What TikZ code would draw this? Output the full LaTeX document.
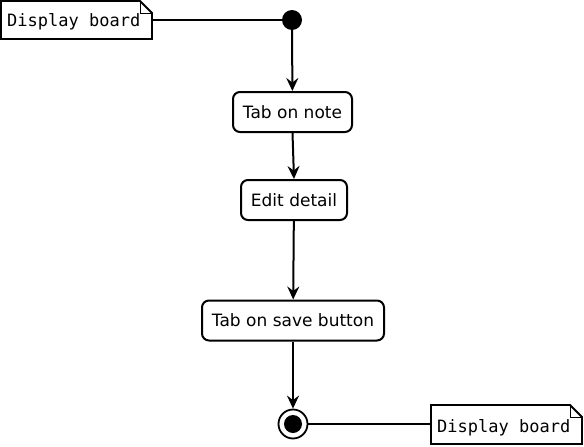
\documentclass[tikz,border=0pt]{standalone}
\usepackage{fontspec}
\setmainfont{DejaVu Sans}
\newfontfamily\monof{DejaVu Sans Mono}
\usetikzlibrary{arrows.meta}
\begin{document}
\begin{tikzpicture}[x=1pt,y=-1pt,
  act/.style={draw,line width=2pt,rounded corners=7pt,minimum height=40pt,inner xsep=9pt,font=\fontsize{17}{19}\selectfont},
  flow/.style={line width=2pt,-{Stealth[length=13pt,width=12pt,inset=4.5pt]}},
  link/.style={line width=2pt}]
\useasboundingbox (0,0) rectangle (584,447);
% note 1
\draw[line width=1.8pt] (1,1) -- (140,1) -- (152,13) -- (152,39) -- (1,39) -- cycle;
\draw[line width=1pt] (140,1) -- (140,13) -- (152,13);
\node[anchor=west,inner sep=0,font=\monof\fontsize{17}{18}\selectfont] (n1) at (7,22) {Display board};
\coordinate (n1r) at (152,20);
% note 2
\draw[line width=1.8pt] (431,405) -- (570,405) -- (582,417) -- (582,444) -- (431,444) -- cycle;
\draw[line width=1pt] (570,405) -- (570,417) -- (582,417);
\node[anchor=west,inner sep=0,font=\monof\fontsize{17}{18}\selectfont] (n2) at (437,428) {Display board};
\coordinate (n2l) at (431,424);
% initial
\node[circle,fill=black,minimum size=20pt,inner sep=0] (init) at (292,20) {};
% activities
\node[act,minimum width=119pt] (a1) at (292.5,112) {Tab on note};
\node[act,minimum width=106pt] (a2) at (294,200) {Edit detail};
\node[act,minimum width=182pt] (a3) at (293,320.5) {Tab on save button};
% final
\node[circle,draw,line width=1.8pt,minimum size=29pt,inner sep=0] (fin) at (293,424) {};
\node[circle,fill=black,minimum size=18pt,inner sep=0] at (fin) {};
% connectors
\draw[link] (n1r) -- (init.west);
\draw[flow] (init) -- (a1);
\draw[flow] (a1.south) -- (a2.north);
\draw[flow] (a2) -- (a3);
\draw[flow] (a3) -- (fin);
\draw[link] (fin.east) -- (n2l);
\end{tikzpicture}
\end{document}
